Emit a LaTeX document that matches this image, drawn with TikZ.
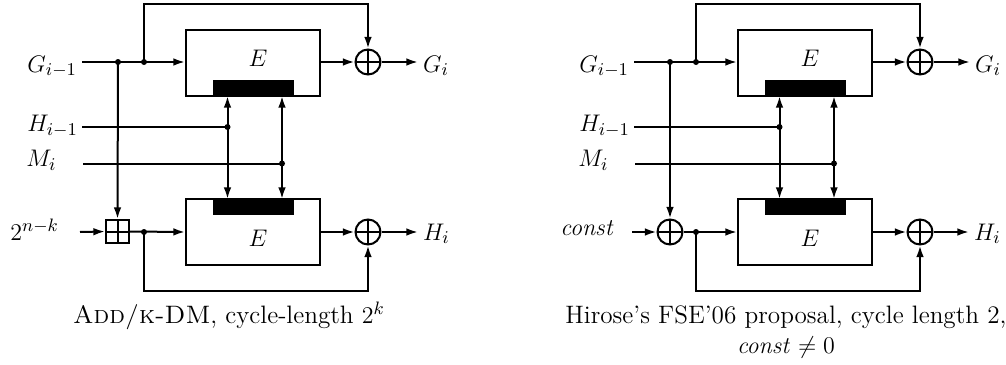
\documentclass[tikz,border=0pt]{standalone}
\usetikzlibrary{arrows.meta}
\begin{document}
\begin{tikzpicture}[x=0.5pt,y=-0.5pt,
  every node/.style={font=\fontsize{12.6}{15}\selectfont},
  ln/.style={line width=1pt},
  arr/.style={ln,-{Latex[length=5.8pt,width=3.8pt]}},
  darr/.style={ln,{Latex[length=5.8pt,width=3.8pt]}-{Latex[length=5.8pt,width=3.8pt]}},
  ebox/.style={draw,line width=1pt,minimum width=67pt,minimum height=33pt,inner sep=0},
  ebar/.style={fill=black,minimum width=40.5pt,minimum height=8pt,inner sep=0},
  xor/.style={circle,draw,line width=1pt,minimum size=12.5pt,inner sep=0,
    path picture={\draw[line width=1pt] (path picture bounding box.north) -- (path picture bounding box.south)
      (path picture bounding box.west) -- (path picture bounding box.east);}},
  bplus/.style={rectangle,draw,line width=1pt,minimum size=11.5pt,inner sep=0,
    path picture={\draw[line width=1pt] (path picture bounding box.north) -- (path picture bounding box.south)
      (path picture bounding box.west) -- (path picture bounding box.east);}},
  lbl/.style={inner sep=0,anchor=base west},
  olbl/.style={inner sep=0,outer sep=2.5pt,anchor=base west},
  dotr/.style={fill=black}
]
\useasboundingbox (0,0) rectangle (1006,364);

% ================= Left: ADD/k-DM =================
\node[ebox] (E1) at (253,63) {};
\node[ebar, anchor=south] (B1) at (253.5,96) {};
\node[anchor=base,inner sep=0] at (258,66.5) (L1) {$E$};
\node[ebox] (E2) at (253,231.5) {};
\node[ebar, anchor=north] (B2) at (253.5,199) {};
\node[anchor=base,inner sep=0] at (258,246.5) (L2) {$E$};
\node[xor] (X1) at (368,62) {};
\node[xor] (X2) at (368,232) {};
\node[bplus] (P) at (117.5,231.5) {};

\node[lbl] (Gin) at (27,72) {$G_{i-1}$};
\node[lbl] (Hin) at (27,131.5) {$H_{i-1}$};
\node[lbl] (Min) at (26,166.5) {$M_i$};
\node[lbl] (Cin) at (10,240) {$2^{n-k}$};
\node[olbl] (Gout) at (418,72) {$G_i$};
\node[olbl] (Hout) at (418,240) {$H_i$};

\coordinate (gs) at (82,62);
\coordinate (hs) at (82,127);
\coordinate (ms) at (83,163.5);
\coordinate (cs) at (80,232);
\coordinate (dA) at (118,62);
\coordinate (dB) at (144,62);
\coordinate (dH) at (227.5,127);
\coordinate (dM) at (282,163.5);
\coordinate (dC) at (144,232);
\coordinate (top) at (144,4);
\coordinate (bot) at (144,291);

\draw[arr] (gs) -- (dB -| E1.west);
\draw[arr] (dB) -- (top) -| (X1.north);
\draw[arr] (dA) -- (P.north);
\draw[ln] (hs) -- (dH);
\draw[ln] (ms) -- (dM);
\draw[darr] (dH |- B2.north) -- (dH |- B1.south);
\draw[darr] (dM |- B2.north) -- (dM |- B1.south);
\draw[arr] (E1.east |- X1) -- (X1.west);
\draw[arr] (X1.east) -- (X1.east -| Gout.west);
\draw[arr] (cs) -- (P.west);
\draw[arr] (P.east) -- (dC -| E2.west);
\draw[arr] (dC) -- (bot) -| (X2.south);
\draw[arr] (E2.east |- X2) -- (X2.west);
\draw[arr] (X2.east) -- (X2.east -| Hout.west);
\foreach \p in {dA,dB,dH,dM,dC} \fill[dotr] (\p) circle (1.5pt);

\node[anchor=base] (cap1) at (229,323) {\textsc{Add/k-DM}, cycle-length $2^k$};

% ================= Right: Hirose =================
\node[ebox] (F1) at (805,63) {};
\node[ebar, anchor=south] (C1) at (805.5,96) {};
\node[anchor=base,inner sep=0] at (810,66.5) (M1) {$E$};
\node[ebox] (F2) at (805,231.5) {};
\node[ebar, anchor=north] (C2) at (805.5,199) {};
\node[anchor=base,inner sep=0] at (810,246.5) (M2) {$E$};
\node[xor] (Y1) at (920,62) {};
\node[xor] (Y2) at (920,232) {};
\node[xor] (Q) at (670,232) {};

\node[lbl] (rGin) at (579,72) {$G_{i-1}$};
\node[lbl] (rHin) at (579,131.5) {$H_{i-1}$};
\node[lbl] (rMin) at (578,166.5) {$M_i$};
\node[lbl] (rCin) at (560,235) {$\mathit{const}$};
\node[olbl] (rGout) at (970,72) {$G_i$};
\node[olbl] (rHout) at (969,240) {$H_i$};

\coordinate (rgs) at (634,62);
\coordinate (rhs) at (634,127);
\coordinate (rms) at (635,163.5);
\coordinate (rcs) at (632,232);
\coordinate (rdA) at (670,62);
\coordinate (rdB) at (696,62);
\coordinate (rdH) at (779.5,127);
\coordinate (rdM) at (834,163.5);
\coordinate (rdC) at (696,232);
\coordinate (rtop) at (696,4);
\coordinate (rbot) at (696,291);

\draw[arr] (rgs) -- (rdB -| F1.west);
\draw[arr] (rdB) -- (rtop) -| (Y1.north);
\draw[arr] (rdA) -- (Q.north);
\draw[ln] (rhs) -- (rdH);
\draw[ln] (rms) -- (rdM);
\draw[darr] (rdH |- C2.north) -- (rdH |- C1.south);
\draw[darr] (rdM |- C2.north) -- (rdM |- C1.south);
\draw[arr] (F1.east |- Y1) -- (Y1.west);
\draw[arr] (Y1.east) -- (Y1.east -| rGout.west);
\draw[arr] (rcs) -- (Q.west);
\draw[arr] (Q.east) -- (rdC -| F2.west);
\draw[arr] (rdC) -- (rbot) -| (Y2.south);
\draw[arr] (F2.east |- Y2) -- (Y2.west);
\draw[arr] (Y2.east) -- (Y2.east -| rHout.west);
\foreach \p in {rdA,rdB,rdH,rdM,rdC} \fill[dotr] (\p) circle (1.5pt);

\node[align=center] (cap2) at (786,332) {Hirose's FSE'06 proposal, cycle length 2,\\ $\mathit{const}\neq 0$};
\end{tikzpicture}
\end{document}
